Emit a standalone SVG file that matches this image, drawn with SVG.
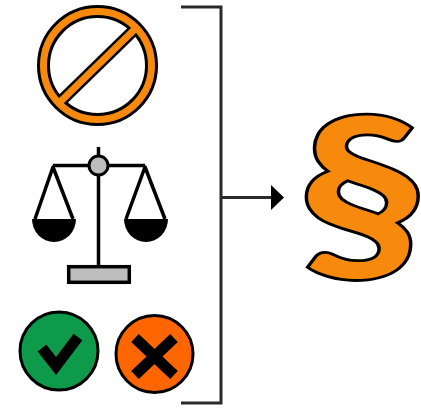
<svg xmlns="http://www.w3.org/2000/svg" width="421" height="409" viewBox="0 0 421 409">
<style>
.k{fill:none;stroke:#000;stroke-width:3.5}
.c{fill:none;stroke:#2a2a2a;stroke-width:3}
.o{fill:none;stroke:#f7890f}
</style>
<defs><filter id="soft" x="-5%" y="-5%" width="110%" height="110%"><feGaussianBlur stdDeviation="0.5"/></filter></defs>
<rect width="421" height="409" fill="#fff"/>
<g filter="url(#soft)">
<g id="prohibited">
<circle cx="97.500" cy="65.500" r="54" fill="none" stroke="#000" stroke-width="13"/>
<line x1="60" y1="102" x2="135" y2="29" stroke="#000" stroke-width="12"/>
<line x1="59" y1="103" x2="136" y2="28" class="o" stroke-width="7"/>
<circle cx="97.500" cy="65.500" r="54" class="o" stroke-width="7"/>
</g>
<g id="scales">
<line x1="98.500" y1="147" x2="98.500" y2="266" class="k"/>
<line x1="53" y1="165.500" x2="145" y2="165.500" class="k"/>
<circle cx="98.500" cy="165.500" r="9.500" fill="#bdbdbd" stroke="#000" stroke-width="3"/>
<path d="M35,219 L53,167 L73,219" class="k" stroke-linejoin="round"/>
<path d="M126,219 L145,167 L165,219" class="k" stroke-linejoin="round"/>
<path d="M32,219 H76 A22,23 0 0 1 32,219 Z" fill="#000"/>
<path d="M124,219 H168 A22,23 0 0 1 124,219 Z" fill="#000"/>
<rect x="68.700" y="266.700" width="60.600" height="15.600" fill="#bdbdbd" stroke="#000" stroke-width="3.500"/>
</g>
<g id="check">
<circle cx="59" cy="351" r="39" fill="#0b9a4b" stroke="#000" stroke-width="3"/>
<path d="M42,348 L56,366 L78,337" fill="none" stroke="#000" stroke-width="11"/>
</g>
<g id="cross">
<circle cx="154.500" cy="354" r="38.500" fill="#ff6600" stroke="#000" stroke-width="3"/>
<path d="M135,338 L174,375 M135,375 L174,338" fill="none" stroke="#000" stroke-width="11"/>
</g>
<g id="connectors">
<path d="M181,7 H221 V403 H181" class="c"/>
<line x1="221" y1="197.500" x2="273" y2="197.500" class="c"/>
<path d="M271,185 L284,197.500 L271,210 Z" fill="#000"/>
</g>
<g id="section">
<text transform="translate(362,268) scale(1.25,1)" text-anchor="middle" font-family="Lato,sans-serif" font-weight="900" font-size="210" fill="#f7890f" stroke="#000" stroke-width="2.800">§</text>
</g>
</g>
</svg>
